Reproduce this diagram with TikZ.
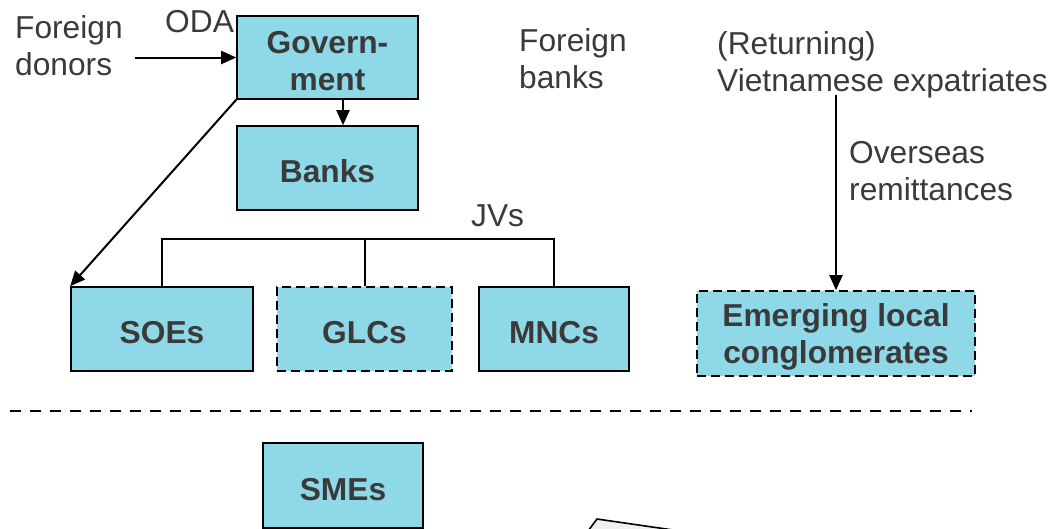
\documentclass[tikz,border=0pt]{standalone}
\usepackage{fontspec}
\setmainfont{Liberation Sans}
\usetikzlibrary{arrows.meta}
\definecolor{boxfill}{HTML}{8ED8E8}
\definecolor{txt}{HTML}{3A3A3A}
\newcommand{\boxstrut}{\rule{0pt}{30pt}}
\begin{document}
\begin{tikzpicture}[x=1pt,y=-1pt,
  every node/.style={font=\fontsize{31.7}{37.5}\selectfont, text=txt},
  box/.style={draw=black, line width=1.6pt, fill=boxfill, inner sep=0pt,
    align=center, font=\fontsize{31.7}{37}\selectfont\bfseries},
  dbox/.style={box, dash pattern=on 9pt off 5pt},
  lbl/.style={align=left, inner sep=0pt, anchor=north west},
  arr/.style={line width=2pt, -{Triangle[length=15pt,width=13pt]}},
  bracket/.style={line width=1.5pt}]
\useasboundingbox (0,0) rectangle (1054,528);
\clip (0,0) rectangle (1054,528);

% boxes
\node[box, minimum width=181pt, minimum height=83pt] (gov) at (327.5,57.5) {\boxstrut Govern-\\ment};
\node[box, minimum width=181pt, minimum height=84pt] (banks) at (327.5,168) {\boxstrut Banks};
\node[box, minimum width=182pt, minimum height=84pt] (soe) at (162,329) {\boxstrut SOEs};
\node[dbox, minimum width=175pt, minimum height=84pt] (glc) at (364.5,329) {\boxstrut GLCs};
\node[box, minimum width=150pt, minimum height=84pt] (mnc) at (554,329) {\boxstrut MNCs};
\node[dbox, minimum width=278pt, minimum height=85pt] (elc) at (836,333.5) {\boxstrut Emerging local\\conglomerates};
\node[box, minimum width=160pt, minimum height=85pt] (sme) at (343,485.5) {\boxstrut SMEs};

% labels
\node[lbl] (donors) at (15,15) {Foreign\\donors};
\node[inner sep=0pt, anchor=base west] (oda) at (165,32) {ODA};
\node[lbl] (fbanks) at (519,28) {Foreign\\banks};
\node[lbl] (expat) at (717,31) {(Returning)\\Vietnamese expatriates};
\node[lbl] (remit) at (849,141) {Overseas\\remittances};
\node[inner sep=0pt, anchor=base west] (jvs) at (471,226) {JVs};

% connectors
\coordinate (fd) at (135,57.5);
\draw[arr] (fd) -- (gov.west);
\coordinate (gb) at (343,0);
\draw[arr] (gov.south -| gb) -- (banks.north -| gb);
\draw[arr] (gov.south west) -- (soe.north west);
\coordinate (rs) at (836,95);
\draw[arr] (rs) -- (elc.north);

\coordinate (jv) at (365,239);
\draw[bracket] (soe.north) |- (jv) -| (mnc.north);
\draw[bracket] (jv) -- (jv |- glc.north);

% separator
\coordinate (sepL) at (10,411);
\coordinate (sepR) at (972,411);
\draw[line width=1.6pt, dash pattern=on 11pt off 9pt] (sepL) -- (sepR);

% partial shape at bottom
\draw[line width=1.6pt, fill=black!6] (588,531) -- (597,519) -- (680,531);
\end{tikzpicture}
\end{document}
